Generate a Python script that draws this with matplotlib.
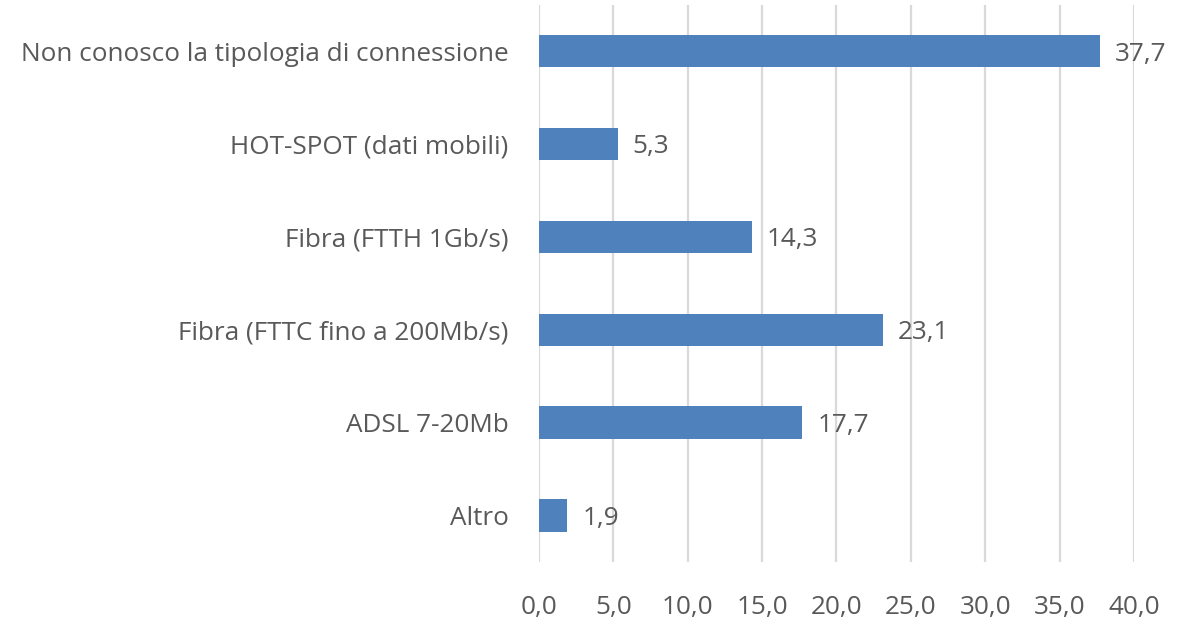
import matplotlib.pyplot as plt
import numpy as np

# data (top to bottom as in the chart)
categories = [
    "Non conosco la tipologia di connessione",
    "HOT-SPOT (dati mobili)",
    "Fibra (FTTH 1Gb/s)",
    "Fibra (FTTC fino a 200Mb/s)",
    "ADSL 7-20Mb",
    "Altro",
]
values = [37.7, 5.3, 14.3, 23.1, 17.7, 1.9]
x_ticks = [0, 5, 10, 15, 20, 25, 30, 35, 40]

plt.rcParams['font.family'] = ['Open Sans', 'DejaVu Sans']
TEXT_COL = '#595959'
BAR_COL = '#4F81BD'
FS = 18.8

fig = plt.figure(figsize=(11.78, 6.2), dpi=100)
ax = fig.add_axes([0.4576, 0.0935, 0.505, 0.899])

y = np.arange(len(categories))
ax.barh(y, values, height=0.35, color=BAR_COL, zorder=3)

ax.set_ylim(len(categories) - 0.5, -0.5)
ax.set_xlim(0, 40)
ax.set_yticks(y)
ax.set_yticklabels(categories)
ax.set_xticks(x_ticks)
ax.set_xticklabels([f"{t:.1f}".replace('.', ',') for t in x_ticks])

ax.grid(axis='x', color='#D9D9D9', linewidth=1.6, zorder=0)
for s in ax.spines.values():
    s.set_visible(False)
ax.tick_params(axis='both', length=0, colors=TEXT_COL, labelsize=FS)
ax.tick_params(axis='y', pad=22)
ax.tick_params(axis='x', pad=24)

for yi, v in zip(y, values):
    ax.text(v + 1.0, yi, f"{v:.1f}".replace('.', ','), va='center_baseline', ha='left',
            fontsize=FS, color=TEXT_COL)

fig.savefig('out.png', dpi=100)
